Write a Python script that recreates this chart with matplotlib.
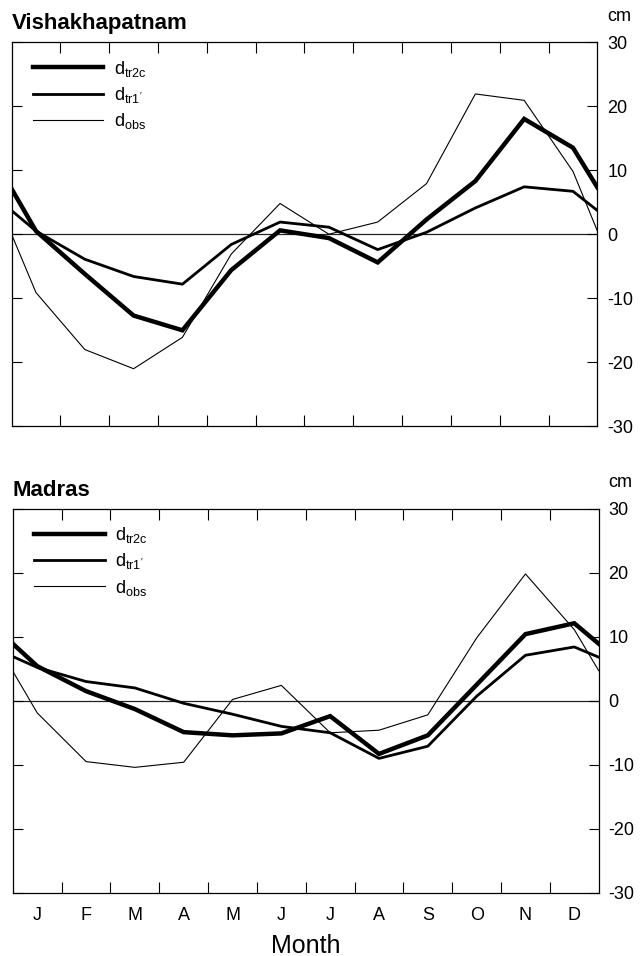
import numpy as np
import matplotlib
matplotlib.use("Agg")
import matplotlib.pyplot as plt

plt.rcParams['font.family'] = ['Liberation Sans', 'DejaVu Sans']
plt.rcParams['mathtext.default'] = 'regular'

months = ['J', 'F', 'M', 'A', 'M', 'J', 'J', 'A', 'S', 'O', 'N', 'D']
# x positions: half-month edge (wrap), Jan..Dec, half-month edge (wrap)
xpos = np.concatenate([[0.5], np.arange(1, 13), [12.5]])

# Vishakhapatnam (cm)
vis_tr2c = [7.1, 0.5, -6.2, -12.7, -15.0, -5.6, 0.6, -0.6, -4.4, 2.3, 8.3, 18.0, 13.5, 7.3]
vis_tr1 = [3.7, 0.5, -3.9, -6.6, -7.8, -1.6, 1.9, 1.1, -2.4, 0.3, 4.1, 7.4, 6.7, 3.7]
vis_obs = [0.0, -9.1, -18.0, -21.0, -16.1, -3.1, 4.8, 0.0, 1.9, 7.9, 21.9, 20.9, 9.8, 0.5]

# Madras (cm)
mad_tr2c = [8.9, 5.4, 1.5, -1.3, -4.9, -5.4, -5.1, -2.4, -8.3, -5.4, 2.5, 10.4, 12.1, 8.9]
mad_tr1 = [6.9, 5.2, 3.0, 2.0, -0.4, -2.1, -4.0, -5.0, -9.0, -7.1, 0.7, 7.1, 8.4, 6.8]
mad_obs = [4.6, -1.9, -9.5, -10.4, -9.6, 0.2, 2.4, -5.0, -4.6, -2.2, 9.8, 19.8, 11.1, 4.7]

labels = [r"d$_{tr2c}$", r"d$_{tr1'}$", r"d$_{obs}$"]
yticks = [-30, -20, -10, 0, 10, 20, 30]

fig = plt.figure(figsize=(6.41, 9.56), dpi=100)
ax1 = fig.add_axes([0.018, 0.554, 0.914, 0.402])
ax2 = fig.add_axes([0.020, 0.066, 0.914, 0.402])


def draw(ax, tr2c, tr1, obs, title, show_months):
    ax.axhline(0, color='#222222', lw=0.9, zorder=1)
    ax.plot(xpos, tr2c, color='black', lw=3.2, solid_joinstyle='miter', label=labels[0], zorder=3)
    ax.plot(xpos, tr1, color='black', lw=2.0, label=labels[1], zorder=3)
    ax.plot(xpos, obs, color='black', lw=0.8, label=labels[2], zorder=2)
    ax.set_xlim(0.5, 12.5)
    ax.set_ylim(-30, 30)
    ax.set_yticks(yticks)
    ax.set_yticklabels([str(v) for v in yticks])
    ax.tick_params(axis='y', direction='in', left=True, right=True, labelleft=False,
                   labelright=True, length=7, width=0.8, labelsize=13, pad=7)
    for lab in ax.get_yticklabels():
        lab.set_horizontalalignment('left')
    ax.set_xticks(np.arange(1.5, 12.5, 1.0))
    ax.set_xticklabels([])
    ax.tick_params(axis='x', which='major', direction='in', top=True, bottom=True,
                   length=8, width=0.8)
    if show_months:
        ax.set_xticks(np.arange(1, 13), minor=True)
        ax.set_xticklabels(months, minor=True)
        ax.tick_params(axis='x', which='minor', length=0, labelsize=13, pad=10)
    for s in ax.spines.values():
        s.set_linewidth(0.9)
    ax.text(0.0, 1.02, title, transform=ax.transAxes, fontsize=16, fontweight='bold',
            ha='left', va='bottom')
    ax.text(1.016, 1.045, 'cm', transform=ax.transAxes, fontsize=13, ha='left', va='bottom')
    ax.legend(loc='upper left', frameon=False, fontsize=13, handlelength=3.9,
              handletextpad=0.6, labelspacing=0.35, borderaxespad=0.3,
              bbox_to_anchor=(0.015, 0.99))


draw(ax1, vis_tr2c, vis_tr1, vis_obs, 'Vishakhapatnam', False)
draw(ax2, mad_tr2c, mad_tr1, mad_obs, 'Madras', True)
ax2.set_xlabel('Month', fontsize=18, labelpad=7)

fig.savefig('out.png', dpi=100)
